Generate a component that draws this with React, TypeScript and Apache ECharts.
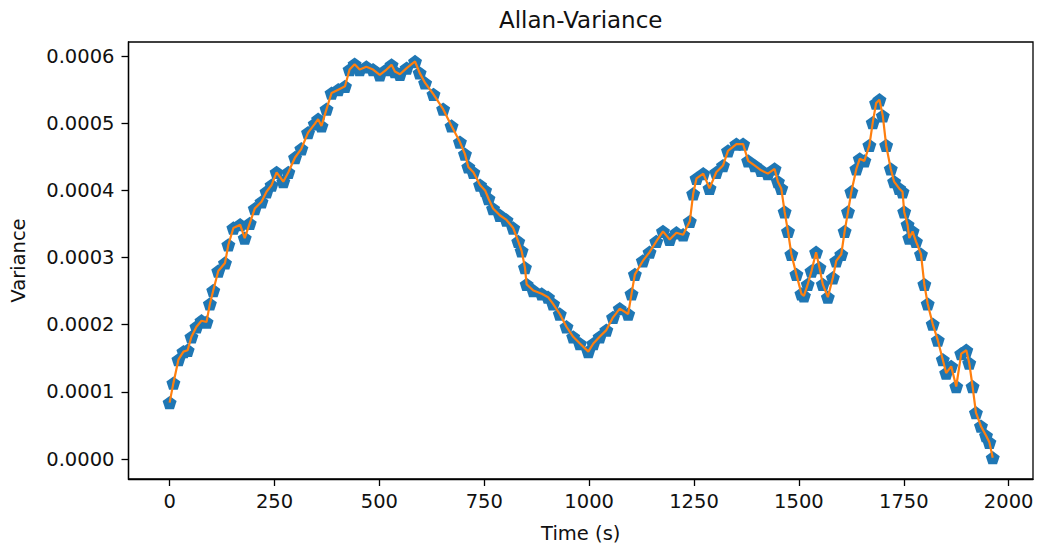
import React, { useEffect, useRef } from "react";
import * as echarts from "echarts";

const times = [
  0, 9, 21, 33, 43, 52, 64, 76, 88, 96, 104, 116, 132, 140, 152, 168, 179, 191, 203, 219,
  231, 243, 255, 271, 283, 299, 314, 330, 346, 354, 362, 374, 386, 402, 418, 429, 441, 453, 469, 485,
  501, 517, 529, 537, 549, 565, 585, 596, 609, 629, 652, 672, 692, 704, 712, 724, 740, 752, 760, 771,
  787, 803, 819, 831, 839, 847, 851, 867, 887, 902, 914, 930, 946, 962, 978, 998, 1010, 1025, 1041, 1057,
  1073, 1093, 1101, 1109, 1128, 1144, 1160, 1176, 1192, 1208, 1224, 1240, 1248, 1256, 1272, 1287, 1303, 1319, 1331, 1351,
  1367, 1379, 1395, 1410, 1426, 1442, 1450, 1458, 1466, 1474, 1482, 1494, 1506, 1512, 1521, 1530, 1541, 1549, 1557, 1569,
  1581, 1589, 1601, 1609, 1617, 1625, 1637, 1645, 1656, 1668, 1676, 1684, 1692, 1700, 1708, 1719, 1727, 1739, 1747, 1751,
  1759, 1763, 1771, 1779, 1791, 1799, 1807, 1819, 1831, 1843, 1851, 1863, 1875, 1887, 1899, 1906, 1914, 1922, 1934, 1946,
  1954, 1962,
];

// variance values in units of 1e-4
const varianceE4 = [
  0.84, 1.13, 1.48, 1.6, 1.62, 1.82, 1.97, 2.06, 2.04, 2.31, 2.51, 2.8, 2.92, 3.19, 3.44, 3.49, 3.29, 3.51, 3.73, 3.83,
  3.98, 4.08, 4.27, 4.13, 4.27, 4.49, 4.62, 4.86, 4.99, 5.06, 4.96, 5.21, 5.45, 5.5, 5.55, 5.8, 5.88, 5.8, 5.84, 5.8,
  5.72, 5.8, 5.87, 5.77, 5.73, 5.82, 5.92, 5.75, 5.6, 5.43, 5.21, 4.96, 4.72, 4.54, 4.35, 4.27, 4.08, 4.0, 3.88, 3.73,
  3.63, 3.56, 3.44, 3.24, 3.1, 2.85, 2.6, 2.51, 2.46, 2.41, 2.31, 2.16, 1.97, 1.82, 1.72, 1.6, 1.72, 1.82, 1.92, 2.11,
  2.24, 2.16, 2.46, 2.75, 2.95, 3.08, 3.24, 3.39, 3.27, 3.37, 3.34, 3.54, 3.95, 4.18, 4.25, 4.03, 4.27, 4.37, 4.59, 4.69,
  4.69, 4.44, 4.37, 4.3, 4.25, 4.32, 4.13, 4.03, 3.68, 3.39, 3.05, 2.75, 2.46, 2.43, 2.6, 2.8, 3.08, 2.85, 2.6, 2.41,
  2.7, 2.95, 3.05, 3.39, 3.68, 3.98, 4.32, 4.47, 4.44, 4.67, 5.01, 5.3, 5.35, 5.11, 4.67, 4.32, 4.13, 4.03, 3.98, 3.68,
  3.49, 3.29, 3.39, 3.24, 3.05, 2.6, 2.31, 2.01, 1.77, 1.48, 1.28, 1.38, 1.08, 1.57, 1.62, 1.43, 1.08, 0.69, 0.49, 0.35,
  0.25, 0.02,
];

const xTicks = [0, 250, 500, 750, 1000, 1250, 1500, 1750, 2000];
const yTicks = [0, 0.0001, 0.0002, 0.0003, 0.0004, 0.0005, 0.0006];

const titleText = "Allan-Variance";
const xLabel = "Time (s)";
const yLabel = "Variance";

const FONT = "DejaVu Sans";
const PENTAGON = "path://M0,-1 L0.951,-0.309 L0.588,0.809 L-0.588,0.809 L-0.951,-0.309 Z";

export default function App() {
  const ref = useRef<HTMLDivElement>(null);
  useEffect(() => {
    if (!ref.current) return;
    const chart = echarts.init(ref.current, undefined, { renderer: "svg" });
    const data = times.map((t, i) => [t, varianceE4[i] * 1e-4]);
    const gridLeft = 128.5;
    const gridRight = 1033;
    const gridTop = 42;
    const gridBottom = 483.7;
    chart.setOption({
      animation: false,
      backgroundColor: "#ffffff",
      textStyle: { fontFamily: FONT },
      grid: {
        left: gridLeft,
        top: gridTop,
        right: 1037 - gridRight,
        bottom: 548 - gridBottom,
        show: true,
        borderColor: "#000",
        borderWidth: 1.3,
        containLabel: false,
      },
      graphic: [
        {
          type: "text",
          x: (gridLeft + gridRight) / 2,
          y: 20,
          style: {
            text: titleText,
            fontFamily: FONT,
            fontSize: 23,
            fill: "#111",
            textAlign: "center",
            textVerticalAlign: "middle",
          },
        },
      ],
      xAxis: {
        type: "value",
        min: -98,
        max: 2058,
        name: xLabel,
        nameLocation: "middle",
        nameGap: 44,
        nameTextStyle: { fontFamily: FONT, fontSize: 19.5, color: "#111" },
        splitLine: { show: false },
        axisLine: { show: true, onZero: false, lineStyle: { color: "#000", width: 1.3 } },
        axisTick: {
          show: true,
          length: 7,
          customValues: xTicks,
          lineStyle: { color: "#000", width: 1.3 },
        },
        axisLabel: {
          customValues: xTicks,
          margin: 12,
          fontFamily: FONT,
          fontSize: 19.5,
          color: "#111",
          formatter: (v: number) => String(v),
        },
      },
      yAxis: {
        type: "value",
        min: -0.0000297,
        max: 0.000621,
        name: yLabel,
        nameLocation: "middle",
        nameRotate: 90,
        nameGap: 100,
        nameTextStyle: { fontFamily: FONT, fontSize: 19.5, color: "#111" },
        splitLine: { show: false },
        axisLine: { show: true, onZero: false, lineStyle: { color: "#000", width: 1.3 } },
        axisTick: {
          show: true,
          length: 7,
          customValues: yTicks,
          lineStyle: { color: "#000", width: 1.3 },
        },
        axisLabel: {
          customValues: yTicks,
          margin: 14,
          fontFamily: FONT,
          fontSize: 19.5,
          color: "#111",
          formatter: (v: number) => v.toFixed(4),
        },
      },
      series: [
        {
          type: "scatter",
          data,
          symbol: PENTAGON,
          symbolSize: 14,
          symbolKeepAspect: true,
          itemStyle: { color: "#1f77b4", opacity: 1 },
          z: 2,
        },
        {
          type: "line",
          data,
          showSymbol: false,
          symbol: "none",
          lineStyle: { color: "#ff7f0e", width: 2.2 },
          itemStyle: { color: "#ff7f0e" },
          z: 3,
        },
      ],
    });
    return () => chart.dispose();
  }, []);
  return (
    <div
      ref={ref}
      style={{ position: "fixed", left: 0, top: 0, width: 1037, height: 548, background: "#fff" }}
    />
  );
}
